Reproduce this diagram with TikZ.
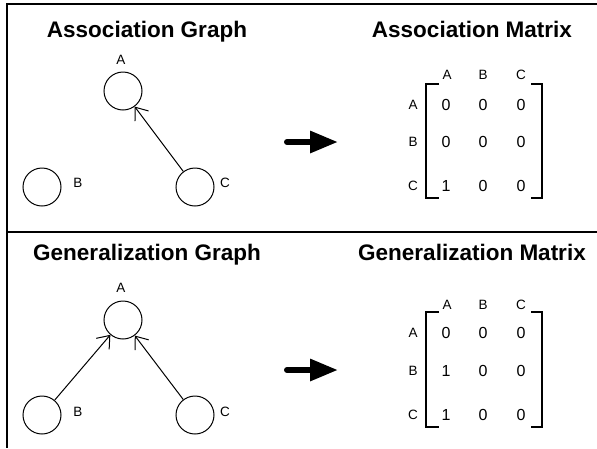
\documentclass[tikz,border=0pt]{standalone}
\usepackage{fontspec}
\setmainfont{Liberation Sans}
\usetikzlibrary{arrows.meta}
\begin{document}
\begin{tikzpicture}[x=1pt,y=-1pt,
  vertex/.style={circle,draw,line width=1pt,minimum size=38pt,inner sep=0pt},
  lbl/.style={font=\fontsize{13.5}{13.5}\selectfont,inner sep=0pt},
  entry/.style={font=\fontsize{16}{16}\selectfont,inner sep=0pt},
  heading/.style={font=\fontsize{22.5}{22.5}\selectfont\bfseries,inner sep=0pt,anchor=base},
  edge/.style={line width=1pt,-{Straight Barb[length=11pt,width=17pt]}},
  bigarrow/.style={line width=6pt,line cap=round,-{Triangle[length=28pt,width=21pt]}},
  frame/.style={line width=1.4pt},
  bracket/.style={line width=1.2pt}]
\useasboundingbox (0,0) rectangle (597,448);

% panel frame
\draw[frame] (597,4) -- (7,4) -- (7,448);
\draw[frame] (7,232) -- (597,232);

% ---------- association ----------
\node[heading] (t1g) at (147,37) {Association Graph};
\node[heading] (t1m) at (472,37) {Association Matrix};

\node[vertex] (aA) at (123,91) {};
\node[vertex] (aB) at (42,187) {};
\node[vertex] (aC) at (195,187) {};
\node[lbl] (aAl) at (121,60) {A};
\node[lbl] (aBl) at (78,183) {B};
\node[lbl] (aCl) at (225,183) {C};
\draw[edge] (aC) -- (aA);

\coordinate (a1s) at (287,142);
\coordinate (a1e) at (338,142);
\draw[bigarrow] (a1s) -- (a1e);

\foreach \c/\x in {A/447,B/483,C/521}
  \node[lbl] (amh\c) at (\x,75) {\c};
\foreach \r/\y in {A/105,B/142,C/186}
  \node[lbl] (amr\r) at (413,\y) {\r};
\foreach \r/\y/\p/\q/\s in {A/105/0/0/0,B/142/0/0/0,C/186/1/0/0}{
  \node[entry] (am\r1) at (446,\y) {\p};
  \node[entry] (am\r2) at (483,\y) {\q};
  \node[entry] (am\r3) at (521,\y) {\s};
}
\draw[bracket] (439,84) -- (426,84) -- (426,198) -- (439,198);
\draw[bracket] (531,84) -- (542,84) -- (542,198) -- (531,198);

% ---------- generalization ----------
\node[heading] (t2g) at (147,260) {Generalization Graph};
\node[heading] (t2m) at (472,260) {Generalization Matrix};

\node[vertex] (gA) at (123,320) {};
\node[vertex] (gB) at (42,415) {};
\node[vertex] (gC) at (195,415) {};
\node[lbl] (gAl) at (121,288) {A};
\node[lbl] (gBl) at (78,412) {B};
\node[lbl] (gCl) at (225,412) {C};
\draw[edge] (gB) -- (gA);
\draw[edge] (gC) -- (gA);

\coordinate (a2s) at (287,370);
\coordinate (a2e) at (338,370);
\draw[bigarrow] (a2s) -- (a2e);

\foreach \c/\x in {A/447,B/483,C/521}
  \node[lbl] (gmh\c) at (\x,305) {\c};
\foreach \r/\y in {A/333,B/371,C/415}
  \node[lbl] (gmr\r) at (413,\y) {\r};
\foreach \r/\y/\p/\q/\s in {A/333/0/0/0,B/371/1/0/0,C/415/1/0/0}{
  \node[entry] (gm\r1) at (446,\y) {\p};
  \node[entry] (gm\r2) at (483,\y) {\q};
  \node[entry] (gm\r3) at (521,\y) {\s};
}
\draw[bracket] (439,312) -- (426,312) -- (426,427) -- (439,427);
\draw[bracket] (531,312) -- (542,312) -- (542,427) -- (531,427);
\end{tikzpicture}
\end{document}
